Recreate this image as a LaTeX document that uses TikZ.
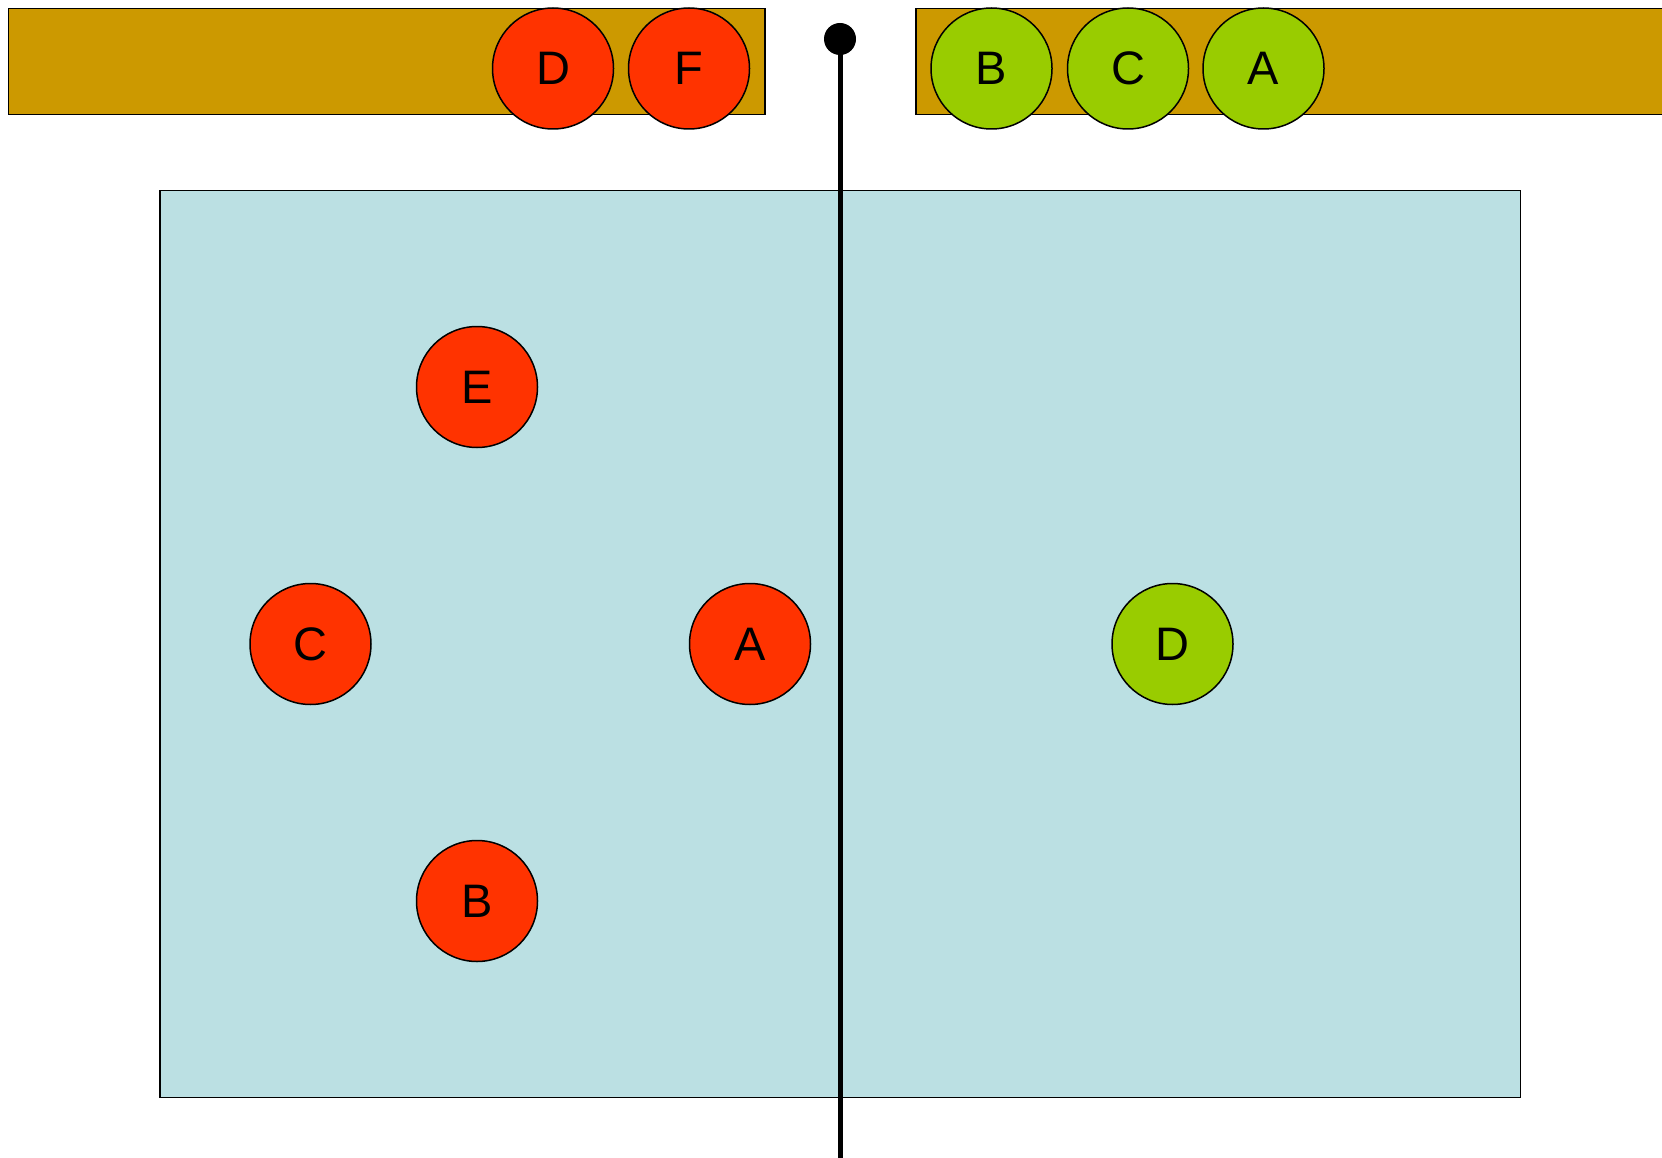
\documentclass[tikz,border=0pt]{standalone}
\usepackage{fontspec}
\setmainfont{Liberation Sans}
\definecolor{bargold}{HTML}{CC9900}
\definecolor{courtblue}{HTML}{BBE0E3}
\definecolor{redteam}{HTML}{FF3300}
\definecolor{greenteam}{HTML}{99CC00}
\tikzset{
  bench/.style={draw=black, line width=1.6pt, fill=bargold},
  court/.style={draw=black, line width=1.6pt, fill=courtblue},
  player/.style={circle, draw=black, line width=1.5pt, minimum size=121pt, inner sep=0pt,
    font=\fontsize{47}{56}\selectfont},
  redp/.style={player, fill=redteam},
  greenp/.style={player, fill=greenteam},
  pole/.style={line width=5pt, black},
}
\begin{document}
\begin{tikzpicture}[x=1pt,y=-1pt]
\useasboundingbox (0,0) rectangle (1662,1158);
% benches
\draw[bench] (8.5,8.7) rectangle (765,114.5);
\draw[bench] (916,8.7) rectangle (1670,114.5);
% bench players
\node[redp] (bD) at (553,68.5) {D};
\node[redp] (bF) at (689,68.5) {F};
\node[greenp] (bB) at (991.5,68.5) {B};
\node[greenp] (bC) at (1128,68.5) {C};
\node[greenp] (bA) at (1263.5,68.5) {A};
% court
\draw[court] (160,190.5) rectangle (1520.5,1097.5);
% pole / net
\coordinate (poletop) at (840,39);
\coordinate (polebot) at (840,1160);
\draw[pole] (poletop) -- (polebot);
\fill[black] (poletop) circle (16);
% court players
\node[redp] (E) at (477,387) {E};
\node[redp] (C) at (310.5,644) {C};
\node[redp] (A) at (750,644) {A};
\node[redp] (B) at (477,901) {B};
\node[greenp] (D) at (1172.5,644) {D};
\end{tikzpicture}
\end{document}
